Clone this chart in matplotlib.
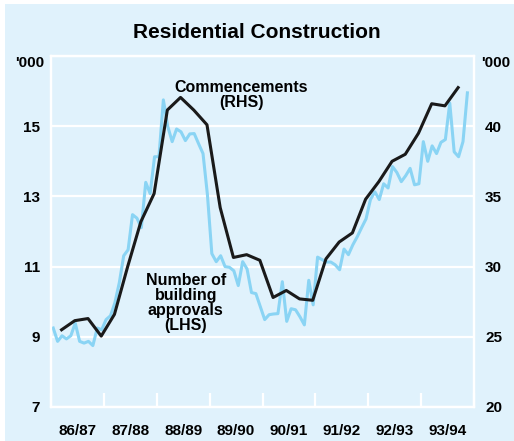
import numpy as np
import matplotlib
matplotlib.use("Agg")
import matplotlib.pyplot as plt
from matplotlib.patches import Rectangle

plt.rcParams["font.family"] = ["Liberation Sans", "DejaVu Sans"]
plt.rcParams["font.weight"] = "bold"

# Monthly building approvals ('000, LHS), Jul 1986 onwards
approvals = [
    9.25, 8.87, 9.03, 8.94, 9.03, 9.39, 8.87, 8.82, 8.87, 8.75, 9.25, 9.20,
    9.49, 9.60, 9.97, 10.54, 11.31, 11.48, 12.48, 12.38, 12.11, 13.40, 13.08, 14.13,
    14.13, 15.75, 14.99, 14.56, 14.92, 14.84, 14.59, 14.78, 14.79, 14.50, 14.22, 13.05,
    11.37, 11.14, 11.31, 11.00, 10.98, 10.88, 10.46, 11.14, 10.93, 10.26, 10.23, 9.86,
    9.49, 9.63, 9.65, 9.66, 10.57, 9.44, 9.80, 9.77, 9.57, 9.34, 10.61, 9.91,
    11.27, 11.20, 11.13, 11.13, 11.05, 10.91, 11.50, 11.34, 11.62, 11.85, 12.11, 12.36,
    12.91, 13.13, 12.91, 13.36, 13.24, 13.85, 13.68, 13.42, 13.59, 13.80, 13.33, 13.36,
    14.56, 14.00, 14.44, 14.22, 14.54, 14.62, 15.66, 14.27, 14.13, 14.56, 15.95,
]

# Quarterly commencements ('000, RHS), Sep qtr 1986 onwards
commencements = [
    25.5, 26.15, 26.3, 25.05, 26.6, 30.0, 33.2, 35.2, 41.15, 42.05, 41.15, 40.1,
    34.2, 30.65, 30.85, 30.45, 27.8, 28.3, 27.7, 27.6, 30.55, 31.75, 32.4, 34.8,
    36.05, 37.5, 38.0, 39.5, 41.6, 41.45, 42.75,
]

year_labels = ["86/87", "87/88", "88/89", "89/90", "90/91", "91/92", "92/93", "93/94"]

bg = "#e0f2fc"
blue = "#8ad4f4"
fs = 11

x_month = 1986.5 + (np.arange(len(approvals)) + 0.5) / 12
x_qtr = 1986.7 + 0.25 * np.arange(len(commencements))

fig = plt.figure(figsize=(5.14, 4.41), dpi=100, facecolor="white")
fig.patches.append(Rectangle((5 / 514, 0), 1, 1 - 4 / 441, transform=fig.transFigure,
                             facecolor=bg, edgecolor="none", zorder=-10))

ax = fig.add_axes([51 / 514, 34 / 441, 423 / 514, 351 / 441])
ax.set_facecolor(bg)
ax2 = ax.twinx()

ax.plot(x_month, approvals, color=blue, lw=2.2, zorder=3)
ax2.plot(x_qtr, commencements, color="#1a1a1a", lw=2.2, zorder=4)

ax.set_xlim(1986.5, 1994.5)
ax.set_ylim(7, 17)
ax2.set_ylim(20, 45)

ax.set_yticks([7, 9, 11, 13, 15])
ax2.set_yticks([20, 25, 30, 35, 40])
ax.grid(axis="y", color="white", lw=1.6)
ax.axhline(17, color="white", lw=1.6)

years = 1986.5 + np.arange(len(year_labels) + 1)
ax.set_xticks(years)
ax.set_xticklabels([])
ax.set_xticks(years[:-1] + 0.5, minor=True)
ax.set_xticklabels(year_labels, minor=True)
ax.tick_params(axis="x", which="major", direction="in", length=10, width=1.6,
               color="white")
ax.tick_params(axis="x", which="minor", length=0, pad=12, labelsize=fs)
ax.tick_params(axis="y", length=0, pad=8, labelsize=fs)
ax2.tick_params(axis="y", length=0, pad=8, labelsize=fs)

for a in (ax, ax2):
    for s in a.spines.values():
        s.set_color("white")
        s.set_linewidth(1.6)

ax.text(-0.017, 0.98, "'000", transform=ax.transAxes, ha="right", va="center",
        fontsize=fs, fontweight="bold")
ax.text(1.018, 0.98, "'000", transform=ax.transAxes, ha="left", va="center",
        fontsize=fs, fontweight="bold")

ax.text(1990.1, 15.9, "Commencements\n(RHS)", ha="center", va="center",
        fontsize=11.5, fontweight="bold", linespacing=1.0)
ax.text(1989.05, 9.96, "Number of\nbuilding\napprovals\n(LHS)", ha="center",
        va="center", fontsize=11.5, fontweight="bold", linespacing=1.0)

fig.text(0.5, 1 - 32 / 441, "Residential Construction", ha="center", va="center",
         fontsize=15, fontweight="bold")

fig.savefig("out.png", dpi=100, facecolor=fig.get_facecolor())
